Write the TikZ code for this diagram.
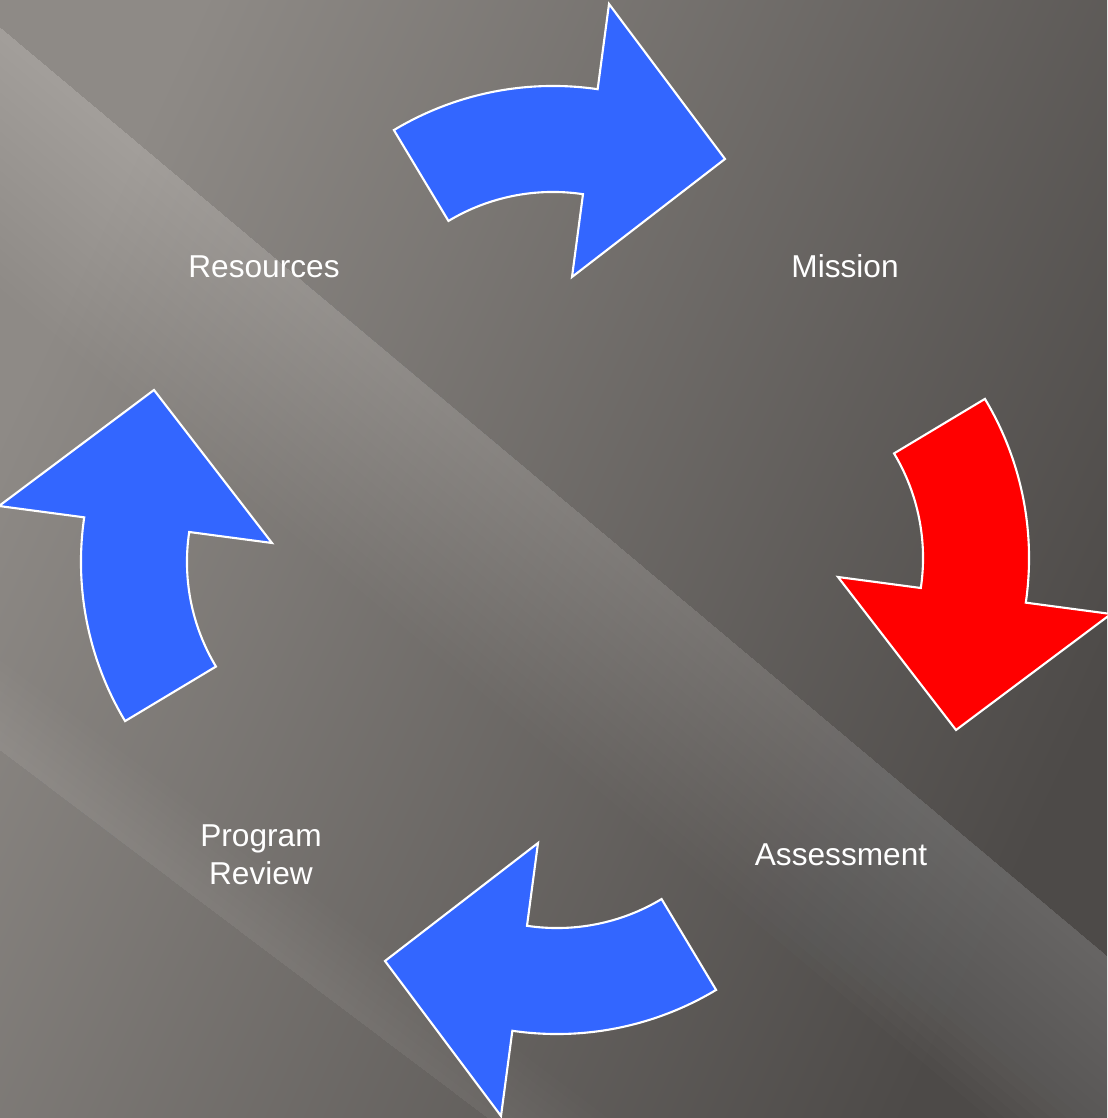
\documentclass[tikz,border=0pt]{standalone}
\usepackage{fontspec}
\setmainfont{Liberation Sans}

\definecolor{arrowblue}{HTML}{3366FF}
\definecolor{bgleft}{HTML}{8E8A86}
\definecolor{bgright}{HTML}{4D4A48}

\tikzset{
  cyclearrow/.style={draw=white, line width=0.6pt},
  cyclelabel/.style={text=white, align=center, font=\fontsize{9}{10.8}\selectfont},
  streak/.style={fill=white, opacity=0.011}
}

\begin{document}
\begin{tikzpicture}
  \useasboundingbox (-5.55,-5.58) rectangle (5.52,5.60);
  % background with light streaks
  \begin{scope}
    \clip (-5.55,-5.58) rectangle (5.52,5.60);
    \shade[top color=bgleft, bottom color=bgright, shading angle=65]
      (-5.55,-5.58) rectangle (5.52,5.60);
    \foreach \w in {0.1,0.2,...,2.0}
      \fill[streak, shift={(-0.20,0.84)}, rotate=-40] (-12,0) rectangle (12,-\w);
    \foreach \w in {0.08,0.16,...,0.8}
      \fill[streak, shift={(-3.30,-3.60)}, rotate=-37] (-8,0) rectangle (8,\w);
  \end{scope}
  % the four arrows of the cycle
  \foreach \ang/\col in {0/arrowblue, -90/red, 180/arrowblue, 90/arrowblue}
    \draw[cyclearrow, fill=\col, rotate=\ang]
      (-1.611,4.299) arc[start angle=121, end angle=81.7, radius=3.09]
      -- (0.54,5.56) -- (1.70,4.01) -- (0.17,2.83) -- (0.280,3.658)
      arc[start angle=81.5, end angle=121, radius=2.03] -- cycle;
  % labels
  \node[cyclelabel] (res) at (-2.91,2.93) {Resources};
  \node[cyclelabel] (mis) at (2.90,2.94) {Mission};
  \node[cyclelabel] (ass) at (2.86,-2.95) {Assessment};
  \node[cyclelabel] (prog) at (-2.94,-2.95) {Program\\Review};
\end{tikzpicture}
\end{document}
